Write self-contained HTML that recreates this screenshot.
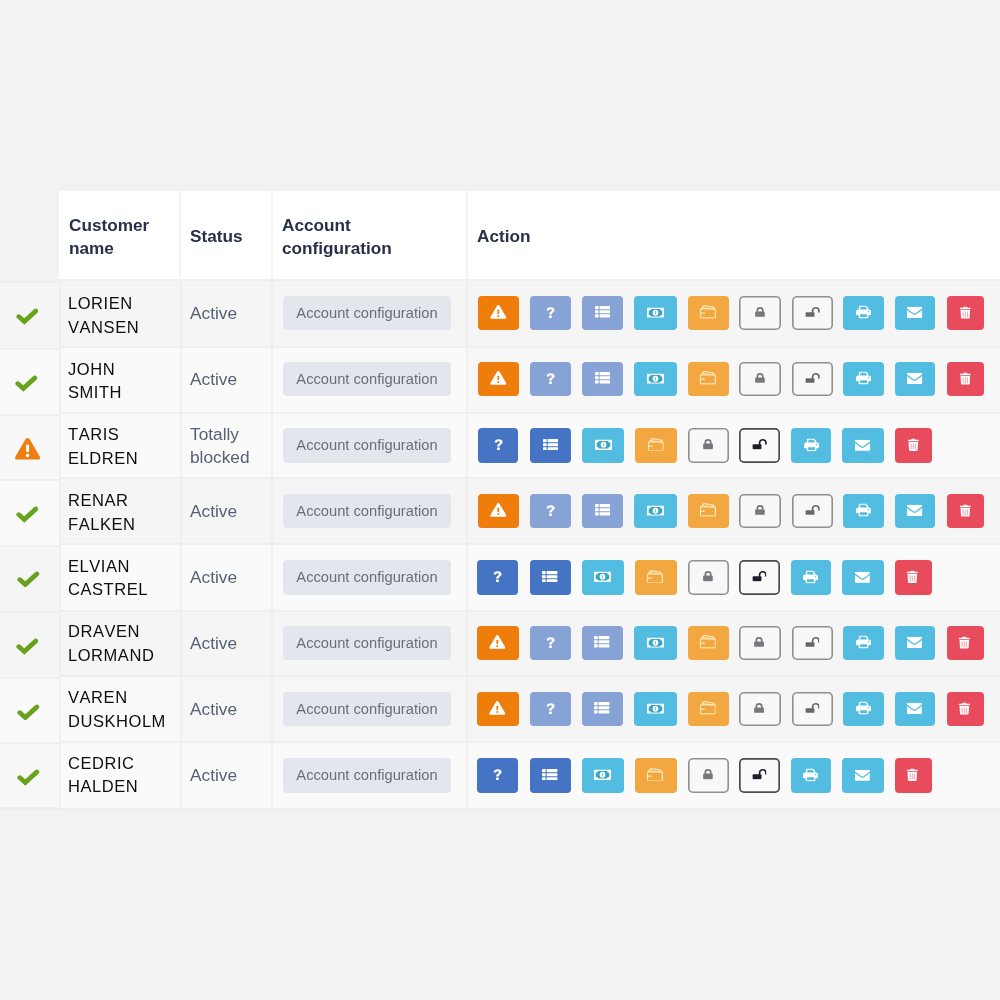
<!DOCTYPE html><html><head><meta charset="utf-8"><title>Customers</title><style>
*{box-sizing:border-box;margin:0;padding:0}
html,body{width:1000px;height:1000px;overflow:hidden}
html{background:#f2f2f2}
#wrap{position:absolute;left:0;top:0;width:1000px;height:1000px;filter:blur(0.45px)}
body{background:#f2f2f2;font-family:"Liberation Sans",sans-serif;position:relative}
.abs{position:absolute}
.hdr{position:absolute;left:59px;top:191px;width:941px;height:89px;background:#fff}
.hl{position:absolute;top:191px;width:1px;height:617px;background:#ebebeb}
.th{position:absolute;font-weight:bold;font-size:17.2px;line-height:23px;color:#273048}
.row{position:absolute;left:0;width:1000px}
.row .lc{position:absolute;left:0;top:0;width:59px;height:100%}
.sep{position:absolute;height:2px;background:#ececec;opacity:0.85}
.nm{position:absolute;left:68px;font-size:16.5px;line-height:23.7px;letter-spacing:0.55px;font-kerning:none;color:#0e0e0e}
.st{position:absolute;left:190px;font-size:17.3px;line-height:23px;color:#566175}
.ac{position:absolute;left:283px;width:168px;height:34px;border-radius:4px;background:#e3e6ec;color:#6b6e76;font-size:14.7px;line-height:35px;text-align:center}
.btn{position:absolute;height:34px;border-radius:4px;display:flex;align-items:center;justify-content:center}
.btn svg{display:block}
.b-warn{background:#ef7d0b}
.b-lq{background:#87a2d4}
.b-bl{background:#4674c4}
.b-cy{background:#52bde0}
.b-or{background:#f3a740}
.b-red{background:#e84c5c}
.b-out{background:#f8f8f8;box-shadow:inset 0 0 0 1.6px #8f8f8f;border-radius:5px}
.b-outd{background:#fafafa;box-shadow:inset 0 0 0 1.7px #4c4c50;border-radius:5px}
.ico{position:absolute}
</style></head><body><div id="wrap">
<div class="hdr"></div>
<div class="abs" style="left:0;top:282px;width:59px;height:67px;background:#f5f5f5"></div>
<div class="abs" style="left:59px;top:280px;width:121px;height:67px;background:#f5f5f5"></div>
<div class="abs" style="left:180px;top:280px;width:92px;height:67px;background:#f5f5f5"></div>
<div class="abs" style="left:272px;top:280px;width:194px;height:67px;background:#f5f5f5"></div>
<div class="abs" style="left:466px;top:280px;width:534px;height:67px;background:#f5f5f5"></div>
<div class="ico" style="left:15.6px;top:308.4px"><svg width="22.6" height="16.5" viewBox="0 0 24 18" preserveAspectRatio="none"><path d="M3 9.4 L8.8 14.8 L21 3.2" fill="none" stroke="#69a21c" stroke-width="5.1" stroke-linecap="round" stroke-linejoin="miter"/></svg></div>
<div class="nm" style="top:291.8px">LORIEN<br>VANSEN</div>
<div class="st" style="top:301.5px">Active</div>
<div class="ac" style="top:296px;height:34px">Account configuration</div>
<div class="btn b-warn" style="left:478.0px;top:296px;width:41px;height:34px"><svg width="17.3" height="15.1" viewBox="0 0 18 16" preserveAspectRatio="none" style="transform:translate(-0.35px,-0.65px)"><path d="M9 0.8 Q9.9 0.8 10.4 1.7 L17.2 13.4 Q17.9 15.2 16.1 15.3 L1.9 15.3 Q0.1 15.2 0.8 13.4 L7.6 1.7 Q8.1 0.8 9 0.8 Z" fill="#fff"/><rect x="8.1" y="5.6" width="1.8" height="4.6" rx="0.6" fill="#ef7d0b"/><circle cx="9" cy="12.4" r="1.1" fill="#ef7d0b"/></svg></div>
<div class="btn b-lq" style="left:530.0px;top:296px;width:41px;height:34px"><svg width="10.3" height="12.6" viewBox="0 0 10 14" preserveAspectRatio="none" style="transform:translate(0.4px,-0.5px)"><path d="M1.1 4.4 C1.3 1.9 3 0.9 5 0.9 C7.3 0.9 8.9 2.1 8.9 4 C8.9 5.5 8.1 6.2 7.1 6.9 C6.3 7.5 6.2 7.9 6.2 8.9 L3.6 8.9 C3.6 7.4 4 6.7 5 6 C5.8 5.4 6.2 5 6.2 4.2 C6.2 3.5 5.7 3.1 5 3.1 C4.2 3.1 3.7 3.6 3.6 4.5 Z" fill="#fff"/><rect x="3.5" y="10" width="2.8" height="2.8" rx="0.5" fill="#fff"/></svg></div>
<div class="btn b-lq" style="left:582.0px;top:296px;width:41px;height:34px"><svg width="15.4" height="11.5" viewBox="0 0 16 13" preserveAspectRatio="none" style="transform:translate(0px,-1px)"><g fill="#fff"><rect x="0" y="0" width="3.8" height="3.6" rx="0.5"/><rect x="4.8" y="0" width="11.2" height="3.6" rx="0.5"/><rect x="0" y="4.7" width="3.8" height="3.6" rx="0.5"/><rect x="4.8" y="4.7" width="11.2" height="3.6" rx="0.5"/><rect x="0" y="9.4" width="3.8" height="3.6" rx="0.5"/><rect x="4.8" y="9.4" width="11.2" height="3.6" rx="0.5"/></g></svg></div>
<div class="btn b-cy" style="left:634.0px;top:296px;width:43px;height:34px"><svg width="17" height="10.3" viewBox="0 0 18 12" preserveAspectRatio="none" style="transform:translate(0px,-0.4px)"><rect x="0" y="0" width="18" height="12" rx="1" fill="#fff"/><path d="M4.2 1.7 L13.8 1.7 Q14 3.4 16.2 3.6 L16.2 8.4 Q14 8.6 13.8 10.3 L4.2 10.3 Q4 8.6 1.8 8.4 L1.8 3.6 Q4 3.4 4.2 1.7 Z" fill="#35a7c6"/><ellipse cx="9" cy="6" rx="3" ry="3.5" fill="#fff"/><rect x="8.5" y="4" width="1" height="4" fill="#6cc6e2"/></svg></div>
<div class="btn b-or" style="left:688.0px;top:296px;width:41px;height:34px"><svg width="16.4" height="13.8" viewBox="0 0 17 14" preserveAspectRatio="none" style="transform:translate(-0.3px,-1.2px)"><g fill="none" stroke="#fde7b8" stroke-width="1.35" stroke-linejoin="round" stroke-linecap="round"><path d="M1.8 4.2 L3.5 1.5 Q3.9 0.7 4.8 0.8 L14.1 2.4 Q14.8 2.6 14.8 3.3 L14.8 4.2"/><path d="M3.6 2.9 L13.2 4.1" stroke-width="0.9"/><rect x="0.7" y="4.2" width="15.6" height="9.1" rx="1.2"/><path d="M0.7 8.4 L4.8 8.4"/></g></svg></div>
<div class="btn b-out" style="left:739.0px;top:296px;width:42px;height:34px"><svg width="10.5" height="10.7" viewBox="0 0 12 13" preserveAspectRatio="none" style="transform:translate(-0.2px,-1.2px)"><path d="M2.9 6.4 L2.9 4.4 A3.1 3.1 0 0 1 9.1 4.4 L9.1 6.4" fill="none" stroke="#77787b" stroke-width="1.9"/><rect x="0.4" y="5.8" width="11.2" height="7" rx="1.2" fill="#77787b"/></svg></div>
<div class="btn b-out" style="left:792.0px;top:296px;width:41px;height:34px"><svg width="14.8" height="10.8" viewBox="0 0 16 13" preserveAspectRatio="none" style="transform:translate(0.2px,-1.2px)"><path d="M8 7 L8 4.6 A3.4 3.4 0 0 1 14.8 4.6 L14.8 6.4" fill="none" stroke="#66676a" stroke-width="1.8" stroke-linecap="round"/><rect x="0.4" y="6.6" width="9.6" height="6" rx="1.1" fill="#66676a"/></svg></div>
<div class="btn b-cy" style="left:843.0px;top:296px;width:41px;height:34px"><svg width="15" height="13.2" viewBox="0 0 16 15" preserveAspectRatio="none" style="transform:translate(0px,-0.5px)"><path d="M3.8 5 L3.8 1.4 Q3.8 0.7 4.5 0.7 L10.2 0.7 L12.2 2.7 L12.2 5" fill="none" stroke="#fff" stroke-width="1.5" stroke-linejoin="round"/><path d="M2.4 4.6 L13.6 4.6 Q16 4.6 16 7 L16 10 Q16 11.2 14.8 11.2 L1.2 11.2 Q0 11.2 0 10 L0 7 Q0 4.6 2.4 4.6 Z" fill="#fff"/><rect x="3.6" y="9.2" width="8.8" height="4.6" rx="0.4" fill="#52bde0" stroke="#fff" stroke-width="1.5"/><circle cx="13.3" cy="7" r="0.8" fill="#52bde0"/></svg></div>
<div class="btn b-cy" style="left:895.0px;top:296px;width:40px;height:34px"><svg width="15.4" height="11.3" viewBox="0 0 17 13" preserveAspectRatio="none" style="transform:translate(-0.2px,-0.3px)"><path d="M1.4 0 L15.6 0 Q17 0 17 1.4 L17 1.9 L9.6 7.4 Q8.5 8.1 7.4 7.4 L0 1.9 L0 1.4 Q0 0 1.4 0 Z" fill="#fff"/><path d="M0 3.7 L6.6 8.6 Q8.5 9.8 10.4 8.6 L17 3.7 L17 11.6 Q17 13 15.6 13 L1.4 13 Q0 13 0 11.6 Z" fill="#fff"/></svg></div>
<div class="btn b-red" style="left:947.0px;top:296px;width:37px;height:34px"><svg width="11.2" height="12.7" viewBox="0 0 12 15" preserveAspectRatio="none" style="transform:translate(-0.3px,-0.6px)"><path d="M0.5 1.6 L3.6 1.6 L4.2 0.5 Q4.4 0.2 4.8 0.2 L7.2 0.2 Q7.6 0.2 7.8 0.5 L8.4 1.6 L11.5 1.6 Q12 1.6 12 2.1 L12 2.9 Q12 3.3 11.5 3.3 L0.5 3.3 Q0 3.3 0 2.9 L0 2.1 Q0 1.6 0.5 1.6 Z" fill="#fff"/><path d="M0.9 4.3 L11.1 4.3 L10.6 13.6 Q10.5 14.8 9.3 14.8 L2.7 14.8 Q1.5 14.8 1.4 13.6 Z" fill="#fff"/><g stroke="#e84c5c" stroke-width="1.1" stroke-linecap="round" opacity="0.5"><path d="M3.7 6.4 L3.7 12.6"/><path d="M6 6.4 L6 12.6"/><path d="M8.3 6.4 L8.3 12.6"/></g></svg></div>
<div class="abs" style="left:0;top:349px;width:59px;height:66px;background:#fafafa"></div>
<div class="abs" style="left:59px;top:347px;width:121px;height:66px;background:#fafafa"></div>
<div class="abs" style="left:180px;top:347px;width:92px;height:66px;background:#fafafa"></div>
<div class="abs" style="left:272px;top:347px;width:194px;height:66px;background:#fafafa"></div>
<div class="abs" style="left:466px;top:347px;width:534px;height:66px;background:#f7f7f7"></div>
<div class="ico" style="left:15.1px;top:375.1px"><svg width="22.6" height="16.5" viewBox="0 0 24 18" preserveAspectRatio="none"><path d="M3 9.4 L8.8 14.8 L21 3.2" fill="none" stroke="#69a21c" stroke-width="5.1" stroke-linecap="round" stroke-linejoin="miter"/></svg></div>
<div class="nm" style="top:357.5px">JOHN<br>SMITH</div>
<div class="st" style="top:367.5px">Active</div>
<div class="ac" style="top:362px;height:34px">Account configuration</div>
<div class="btn b-warn" style="left:478.0px;top:362px;width:41px;height:34px"><svg width="17.3" height="15.1" viewBox="0 0 18 16" preserveAspectRatio="none" style="transform:translate(-0.35px,-0.65px)"><path d="M9 0.8 Q9.9 0.8 10.4 1.7 L17.2 13.4 Q17.9 15.2 16.1 15.3 L1.9 15.3 Q0.1 15.2 0.8 13.4 L7.6 1.7 Q8.1 0.8 9 0.8 Z" fill="#fff"/><rect x="8.1" y="5.6" width="1.8" height="4.6" rx="0.6" fill="#ef7d0b"/><circle cx="9" cy="12.4" r="1.1" fill="#ef7d0b"/></svg></div>
<div class="btn b-lq" style="left:530.0px;top:362px;width:41px;height:34px"><svg width="10.3" height="12.6" viewBox="0 0 10 14" preserveAspectRatio="none" style="transform:translate(0.4px,-0.5px)"><path d="M1.1 4.4 C1.3 1.9 3 0.9 5 0.9 C7.3 0.9 8.9 2.1 8.9 4 C8.9 5.5 8.1 6.2 7.1 6.9 C6.3 7.5 6.2 7.9 6.2 8.9 L3.6 8.9 C3.6 7.4 4 6.7 5 6 C5.8 5.4 6.2 5 6.2 4.2 C6.2 3.5 5.7 3.1 5 3.1 C4.2 3.1 3.7 3.6 3.6 4.5 Z" fill="#fff"/><rect x="3.5" y="10" width="2.8" height="2.8" rx="0.5" fill="#fff"/></svg></div>
<div class="btn b-lq" style="left:582.0px;top:362px;width:41px;height:34px"><svg width="15.4" height="11.5" viewBox="0 0 16 13" preserveAspectRatio="none" style="transform:translate(0px,-1px)"><g fill="#fff"><rect x="0" y="0" width="3.8" height="3.6" rx="0.5"/><rect x="4.8" y="0" width="11.2" height="3.6" rx="0.5"/><rect x="0" y="4.7" width="3.8" height="3.6" rx="0.5"/><rect x="4.8" y="4.7" width="11.2" height="3.6" rx="0.5"/><rect x="0" y="9.4" width="3.8" height="3.6" rx="0.5"/><rect x="4.8" y="9.4" width="11.2" height="3.6" rx="0.5"/></g></svg></div>
<div class="btn b-cy" style="left:634.0px;top:362px;width:43px;height:34px"><svg width="17" height="10.3" viewBox="0 0 18 12" preserveAspectRatio="none" style="transform:translate(0px,-0.4px)"><rect x="0" y="0" width="18" height="12" rx="1" fill="#fff"/><path d="M4.2 1.7 L13.8 1.7 Q14 3.4 16.2 3.6 L16.2 8.4 Q14 8.6 13.8 10.3 L4.2 10.3 Q4 8.6 1.8 8.4 L1.8 3.6 Q4 3.4 4.2 1.7 Z" fill="#35a7c6"/><ellipse cx="9" cy="6" rx="3" ry="3.5" fill="#fff"/><rect x="8.5" y="4" width="1" height="4" fill="#6cc6e2"/></svg></div>
<div class="btn b-or" style="left:688.0px;top:362px;width:41px;height:34px"><svg width="16.4" height="13.8" viewBox="0 0 17 14" preserveAspectRatio="none" style="transform:translate(-0.3px,-1.2px)"><g fill="none" stroke="#fde7b8" stroke-width="1.35" stroke-linejoin="round" stroke-linecap="round"><path d="M1.8 4.2 L3.5 1.5 Q3.9 0.7 4.8 0.8 L14.1 2.4 Q14.8 2.6 14.8 3.3 L14.8 4.2"/><path d="M3.6 2.9 L13.2 4.1" stroke-width="0.9"/><rect x="0.7" y="4.2" width="15.6" height="9.1" rx="1.2"/><path d="M0.7 8.4 L4.8 8.4"/></g></svg></div>
<div class="btn b-out" style="left:739.0px;top:362px;width:42px;height:34px"><svg width="10.5" height="10.7" viewBox="0 0 12 13" preserveAspectRatio="none" style="transform:translate(-0.2px,-1.2px)"><path d="M2.9 6.4 L2.9 4.4 A3.1 3.1 0 0 1 9.1 4.4 L9.1 6.4" fill="none" stroke="#77787b" stroke-width="1.9"/><rect x="0.4" y="5.8" width="11.2" height="7" rx="1.2" fill="#77787b"/></svg></div>
<div class="btn b-out" style="left:792.0px;top:362px;width:41px;height:34px"><svg width="14.8" height="10.8" viewBox="0 0 16 13" preserveAspectRatio="none" style="transform:translate(0.2px,-1.2px)"><path d="M8 7 L8 4.6 A3.4 3.4 0 0 1 14.8 4.6 L14.8 6.4" fill="none" stroke="#66676a" stroke-width="1.8" stroke-linecap="round"/><rect x="0.4" y="6.6" width="9.6" height="6" rx="1.1" fill="#66676a"/></svg></div>
<div class="btn b-cy" style="left:843.0px;top:362px;width:41px;height:34px"><svg width="15" height="13.2" viewBox="0 0 16 15" preserveAspectRatio="none" style="transform:translate(0px,-0.5px)"><path d="M3.8 5 L3.8 1.4 Q3.8 0.7 4.5 0.7 L10.2 0.7 L12.2 2.7 L12.2 5" fill="none" stroke="#fff" stroke-width="1.5" stroke-linejoin="round"/><path d="M2.4 4.6 L13.6 4.6 Q16 4.6 16 7 L16 10 Q16 11.2 14.8 11.2 L1.2 11.2 Q0 11.2 0 10 L0 7 Q0 4.6 2.4 4.6 Z" fill="#fff"/><rect x="3.6" y="9.2" width="8.8" height="4.6" rx="0.4" fill="#52bde0" stroke="#fff" stroke-width="1.5"/><circle cx="13.3" cy="7" r="0.8" fill="#52bde0"/></svg></div>
<div class="btn b-cy" style="left:895.0px;top:362px;width:40px;height:34px"><svg width="15.4" height="11.3" viewBox="0 0 17 13" preserveAspectRatio="none" style="transform:translate(-0.2px,-0.3px)"><path d="M1.4 0 L15.6 0 Q17 0 17 1.4 L17 1.9 L9.6 7.4 Q8.5 8.1 7.4 7.4 L0 1.9 L0 1.4 Q0 0 1.4 0 Z" fill="#fff"/><path d="M0 3.7 L6.6 8.6 Q8.5 9.8 10.4 8.6 L17 3.7 L17 11.6 Q17 13 15.6 13 L1.4 13 Q0 13 0 11.6 Z" fill="#fff"/></svg></div>
<div class="btn b-red" style="left:947.0px;top:362px;width:37px;height:34px"><svg width="11.2" height="12.7" viewBox="0 0 12 15" preserveAspectRatio="none" style="transform:translate(-0.3px,-0.6px)"><path d="M0.5 1.6 L3.6 1.6 L4.2 0.5 Q4.4 0.2 4.8 0.2 L7.2 0.2 Q7.6 0.2 7.8 0.5 L8.4 1.6 L11.5 1.6 Q12 1.6 12 2.1 L12 2.9 Q12 3.3 11.5 3.3 L0.5 3.3 Q0 3.3 0 2.9 L0 2.1 Q0 1.6 0.5 1.6 Z" fill="#fff"/><path d="M0.9 4.3 L11.1 4.3 L10.6 13.6 Q10.5 14.8 9.3 14.8 L2.7 14.8 Q1.5 14.8 1.4 13.6 Z" fill="#fff"/><g stroke="#e84c5c" stroke-width="1.1" stroke-linecap="round" opacity="0.5"><path d="M3.7 6.4 L3.7 12.6"/><path d="M6 6.4 L6 12.6"/><path d="M8.3 6.4 L8.3 12.6"/></g></svg></div>
<div class="abs" style="left:0;top:415px;width:59px;height:65px;background:#f8f8f8"></div>
<div class="abs" style="left:59px;top:413px;width:121px;height:65px;background:#fafafa"></div>
<div class="abs" style="left:180px;top:413px;width:92px;height:65px;background:#fafafa"></div>
<div class="abs" style="left:272px;top:413px;width:194px;height:65px;background:#fafafa"></div>
<div class="abs" style="left:466px;top:413px;width:534px;height:65px;background:#fafafa"></div>
<div class="ico" style="left:13.8px;top:436.7px"><svg width="27.2" height="23.4" viewBox="0 0 28 24" preserveAspectRatio="none"><path d="M14 1 Q15.4 1 16.2 2.4 L26.6 20.2 Q27.6 23 25 23.2 L3 23.2 Q0.4 23 1.4 20.2 L11.8 2.4 Q12.6 1 14 1 Z" fill="#ef7d10"/><rect x="12.5" y="7.6" width="3" height="8" rx="0.9" fill="#fff"/><circle cx="14" cy="19" r="1.8" fill="#fff"/></svg></div>
<div class="nm" style="top:423.2px">TARIS<br>ELDREN</div>
<div class="st" style="top:422.5px">Totally<br>blocked</div>
<div class="ac" style="top:428px;height:35px">Account configuration</div>
<div class="btn b-bl" style="left:478.0px;top:428px;width:40px;height:35px"><svg width="10.3" height="12.6" viewBox="0 0 10 14" preserveAspectRatio="none" style="transform:translate(0.4px,-0.5px)"><path d="M1.1 4.4 C1.3 1.9 3 0.9 5 0.9 C7.3 0.9 8.9 2.1 8.9 4 C8.9 5.5 8.1 6.2 7.1 6.9 C6.3 7.5 6.2 7.9 6.2 8.9 L3.6 8.9 C3.6 7.4 4 6.7 5 6 C5.8 5.4 6.2 5 6.2 4.2 C6.2 3.5 5.7 3.1 5 3.1 C4.2 3.1 3.7 3.6 3.6 4.5 Z" fill="#fff"/><rect x="3.5" y="10" width="2.8" height="2.8" rx="0.5" fill="#fff"/></svg></div>
<div class="btn b-bl" style="left:530.0px;top:428px;width:41px;height:35px"><svg width="15.4" height="11.5" viewBox="0 0 16 13" preserveAspectRatio="none" style="transform:translate(0px,-1px)"><g fill="#fff"><rect x="0" y="0" width="3.8" height="3.6" rx="0.5"/><rect x="4.8" y="0" width="11.2" height="3.6" rx="0.5"/><rect x="0" y="4.7" width="3.8" height="3.6" rx="0.5"/><rect x="4.8" y="4.7" width="11.2" height="3.6" rx="0.5"/><rect x="0" y="9.4" width="3.8" height="3.6" rx="0.5"/><rect x="4.8" y="9.4" width="11.2" height="3.6" rx="0.5"/></g></svg></div>
<div class="btn b-cy" style="left:582.0px;top:428px;width:42px;height:35px"><svg width="17" height="10.3" viewBox="0 0 18 12" preserveAspectRatio="none" style="transform:translate(0px,-0.4px)"><rect x="0" y="0" width="18" height="12" rx="1" fill="#fff"/><path d="M4.2 1.7 L13.8 1.7 Q14 3.4 16.2 3.6 L16.2 8.4 Q14 8.6 13.8 10.3 L4.2 10.3 Q4 8.6 1.8 8.4 L1.8 3.6 Q4 3.4 4.2 1.7 Z" fill="#35a7c6"/><ellipse cx="9" cy="6" rx="3" ry="3.5" fill="#fff"/><rect x="8.5" y="4" width="1" height="4" fill="#6cc6e2"/></svg></div>
<div class="btn b-or" style="left:635.0px;top:428px;width:42px;height:35px"><svg width="16.4" height="13.8" viewBox="0 0 17 14" preserveAspectRatio="none" style="transform:translate(-0.3px,-1.2px)"><g fill="none" stroke="#fde7b8" stroke-width="1.35" stroke-linejoin="round" stroke-linecap="round"><path d="M1.8 4.2 L3.5 1.5 Q3.9 0.7 4.8 0.8 L14.1 2.4 Q14.8 2.6 14.8 3.3 L14.8 4.2"/><path d="M3.6 2.9 L13.2 4.1" stroke-width="0.9"/><rect x="0.7" y="4.2" width="15.6" height="9.1" rx="1.2"/><path d="M0.7 8.4 L4.8 8.4"/></g></svg></div>
<div class="btn b-out" style="left:688.0px;top:428px;width:41px;height:35px"><svg width="10.5" height="10.7" viewBox="0 0 12 13" preserveAspectRatio="none" style="transform:translate(-0.2px,-1.2px)"><path d="M2.9 6.4 L2.9 4.4 A3.1 3.1 0 0 1 9.1 4.4 L9.1 6.4" fill="none" stroke="#77787b" stroke-width="1.9"/><rect x="0.4" y="5.8" width="11.2" height="7" rx="1.2" fill="#77787b"/></svg></div>
<div class="btn b-outd" style="left:739.0px;top:428px;width:41px;height:35px"><svg width="14.8" height="10.8" viewBox="0 0 16 13" preserveAspectRatio="none" style="transform:translate(0.2px,-1.2px)"><path d="M8 7 L8 4.6 A3.4 3.4 0 0 1 14.8 4.6 L14.8 6.4" fill="none" stroke="#1c1f2a" stroke-width="1.8" stroke-linecap="round"/><rect x="0.4" y="6.6" width="9.6" height="6" rx="1.1" fill="#1c1f2a"/></svg></div>
<div class="btn b-cy" style="left:791.0px;top:428px;width:40px;height:35px"><svg width="15" height="13.2" viewBox="0 0 16 15" preserveAspectRatio="none" style="transform:translate(0px,-0.5px)"><path d="M3.8 5 L3.8 1.4 Q3.8 0.7 4.5 0.7 L10.2 0.7 L12.2 2.7 L12.2 5" fill="none" stroke="#fff" stroke-width="1.5" stroke-linejoin="round"/><path d="M2.4 4.6 L13.6 4.6 Q16 4.6 16 7 L16 10 Q16 11.2 14.8 11.2 L1.2 11.2 Q0 11.2 0 10 L0 7 Q0 4.6 2.4 4.6 Z" fill="#fff"/><rect x="3.6" y="9.2" width="8.8" height="4.6" rx="0.4" fill="#52bde0" stroke="#fff" stroke-width="1.5"/><circle cx="13.3" cy="7" r="0.8" fill="#52bde0"/></svg></div>
<div class="btn b-cy" style="left:842.0px;top:428px;width:42px;height:35px"><svg width="15.4" height="11.3" viewBox="0 0 17 13" preserveAspectRatio="none" style="transform:translate(-0.2px,-0.3px)"><path d="M1.4 0 L15.6 0 Q17 0 17 1.4 L17 1.9 L9.6 7.4 Q8.5 8.1 7.4 7.4 L0 1.9 L0 1.4 Q0 0 1.4 0 Z" fill="#fff"/><path d="M0 3.7 L6.6 8.6 Q8.5 9.8 10.4 8.6 L17 3.7 L17 11.6 Q17 13 15.6 13 L1.4 13 Q0 13 0 11.6 Z" fill="#fff"/></svg></div>
<div class="btn b-red" style="left:895.0px;top:428px;width:37px;height:35px"><svg width="11.2" height="12.7" viewBox="0 0 12 15" preserveAspectRatio="none" style="transform:translate(-0.3px,-0.6px)"><path d="M0.5 1.6 L3.6 1.6 L4.2 0.5 Q4.4 0.2 4.8 0.2 L7.2 0.2 Q7.6 0.2 7.8 0.5 L8.4 1.6 L11.5 1.6 Q12 1.6 12 2.1 L12 2.9 Q12 3.3 11.5 3.3 L0.5 3.3 Q0 3.3 0 2.9 L0 2.1 Q0 1.6 0.5 1.6 Z" fill="#fff"/><path d="M0.9 4.3 L11.1 4.3 L10.6 13.6 Q10.5 14.8 9.3 14.8 L2.7 14.8 Q1.5 14.8 1.4 13.6 Z" fill="#fff"/><g stroke="#e84c5c" stroke-width="1.1" stroke-linecap="round" opacity="0.5"><path d="M3.7 6.4 L3.7 12.6"/><path d="M6 6.4 L6 12.6"/><path d="M8.3 6.4 L8.3 12.6"/></g></svg></div>
<div class="abs" style="left:0;top:480px;width:59px;height:66px;background:#fafafa"></div>
<div class="abs" style="left:59px;top:478px;width:121px;height:66px;background:#f5f5f5"></div>
<div class="abs" style="left:180px;top:478px;width:92px;height:66px;background:#f5f5f5"></div>
<div class="abs" style="left:272px;top:478px;width:194px;height:66px;background:#f5f5f5"></div>
<div class="abs" style="left:466px;top:478px;width:534px;height:66px;background:#f5f5f5"></div>
<div class="ico" style="left:15.6px;top:506.3px"><svg width="22.6" height="16.5" viewBox="0 0 24 18" preserveAspectRatio="none"><path d="M3 9.4 L8.8 14.8 L21 3.2" fill="none" stroke="#69a21c" stroke-width="5.1" stroke-linecap="round" stroke-linejoin="miter"/></svg></div>
<div class="nm" style="top:488.9px">RENAR<br>FALKEN</div>
<div class="st" style="top:499.5px">Active</div>
<div class="ac" style="top:494px;height:34px">Account configuration</div>
<div class="btn b-warn" style="left:478.0px;top:494px;width:41px;height:34px"><svg width="17.3" height="15.1" viewBox="0 0 18 16" preserveAspectRatio="none" style="transform:translate(-0.35px,-0.65px)"><path d="M9 0.8 Q9.9 0.8 10.4 1.7 L17.2 13.4 Q17.9 15.2 16.1 15.3 L1.9 15.3 Q0.1 15.2 0.8 13.4 L7.6 1.7 Q8.1 0.8 9 0.8 Z" fill="#fff"/><rect x="8.1" y="5.6" width="1.8" height="4.6" rx="0.6" fill="#ef7d0b"/><circle cx="9" cy="12.4" r="1.1" fill="#ef7d0b"/></svg></div>
<div class="btn b-lq" style="left:530.0px;top:494px;width:41px;height:34px"><svg width="10.3" height="12.6" viewBox="0 0 10 14" preserveAspectRatio="none" style="transform:translate(0.4px,-0.5px)"><path d="M1.1 4.4 C1.3 1.9 3 0.9 5 0.9 C7.3 0.9 8.9 2.1 8.9 4 C8.9 5.5 8.1 6.2 7.1 6.9 C6.3 7.5 6.2 7.9 6.2 8.9 L3.6 8.9 C3.6 7.4 4 6.7 5 6 C5.8 5.4 6.2 5 6.2 4.2 C6.2 3.5 5.7 3.1 5 3.1 C4.2 3.1 3.7 3.6 3.6 4.5 Z" fill="#fff"/><rect x="3.5" y="10" width="2.8" height="2.8" rx="0.5" fill="#fff"/></svg></div>
<div class="btn b-lq" style="left:582.0px;top:494px;width:41px;height:34px"><svg width="15.4" height="11.5" viewBox="0 0 16 13" preserveAspectRatio="none" style="transform:translate(0px,-1px)"><g fill="#fff"><rect x="0" y="0" width="3.8" height="3.6" rx="0.5"/><rect x="4.8" y="0" width="11.2" height="3.6" rx="0.5"/><rect x="0" y="4.7" width="3.8" height="3.6" rx="0.5"/><rect x="4.8" y="4.7" width="11.2" height="3.6" rx="0.5"/><rect x="0" y="9.4" width="3.8" height="3.6" rx="0.5"/><rect x="4.8" y="9.4" width="11.2" height="3.6" rx="0.5"/></g></svg></div>
<div class="btn b-cy" style="left:634.0px;top:494px;width:43px;height:34px"><svg width="17" height="10.3" viewBox="0 0 18 12" preserveAspectRatio="none" style="transform:translate(0px,-0.4px)"><rect x="0" y="0" width="18" height="12" rx="1" fill="#fff"/><path d="M4.2 1.7 L13.8 1.7 Q14 3.4 16.2 3.6 L16.2 8.4 Q14 8.6 13.8 10.3 L4.2 10.3 Q4 8.6 1.8 8.4 L1.8 3.6 Q4 3.4 4.2 1.7 Z" fill="#35a7c6"/><ellipse cx="9" cy="6" rx="3" ry="3.5" fill="#fff"/><rect x="8.5" y="4" width="1" height="4" fill="#6cc6e2"/></svg></div>
<div class="btn b-or" style="left:688.0px;top:494px;width:41px;height:34px"><svg width="16.4" height="13.8" viewBox="0 0 17 14" preserveAspectRatio="none" style="transform:translate(-0.3px,-1.2px)"><g fill="none" stroke="#fde7b8" stroke-width="1.35" stroke-linejoin="round" stroke-linecap="round"><path d="M1.8 4.2 L3.5 1.5 Q3.9 0.7 4.8 0.8 L14.1 2.4 Q14.8 2.6 14.8 3.3 L14.8 4.2"/><path d="M3.6 2.9 L13.2 4.1" stroke-width="0.9"/><rect x="0.7" y="4.2" width="15.6" height="9.1" rx="1.2"/><path d="M0.7 8.4 L4.8 8.4"/></g></svg></div>
<div class="btn b-out" style="left:739.0px;top:494px;width:42px;height:34px"><svg width="10.5" height="10.7" viewBox="0 0 12 13" preserveAspectRatio="none" style="transform:translate(-0.2px,-1.2px)"><path d="M2.9 6.4 L2.9 4.4 A3.1 3.1 0 0 1 9.1 4.4 L9.1 6.4" fill="none" stroke="#77787b" stroke-width="1.9"/><rect x="0.4" y="5.8" width="11.2" height="7" rx="1.2" fill="#77787b"/></svg></div>
<div class="btn b-out" style="left:792.0px;top:494px;width:41px;height:34px"><svg width="14.8" height="10.8" viewBox="0 0 16 13" preserveAspectRatio="none" style="transform:translate(0.2px,-1.2px)"><path d="M8 7 L8 4.6 A3.4 3.4 0 0 1 14.8 4.6 L14.8 6.4" fill="none" stroke="#66676a" stroke-width="1.8" stroke-linecap="round"/><rect x="0.4" y="6.6" width="9.6" height="6" rx="1.1" fill="#66676a"/></svg></div>
<div class="btn b-cy" style="left:843.0px;top:494px;width:41px;height:34px"><svg width="15" height="13.2" viewBox="0 0 16 15" preserveAspectRatio="none" style="transform:translate(0px,-0.5px)"><path d="M3.8 5 L3.8 1.4 Q3.8 0.7 4.5 0.7 L10.2 0.7 L12.2 2.7 L12.2 5" fill="none" stroke="#fff" stroke-width="1.5" stroke-linejoin="round"/><path d="M2.4 4.6 L13.6 4.6 Q16 4.6 16 7 L16 10 Q16 11.2 14.8 11.2 L1.2 11.2 Q0 11.2 0 10 L0 7 Q0 4.6 2.4 4.6 Z" fill="#fff"/><rect x="3.6" y="9.2" width="8.8" height="4.6" rx="0.4" fill="#52bde0" stroke="#fff" stroke-width="1.5"/><circle cx="13.3" cy="7" r="0.8" fill="#52bde0"/></svg></div>
<div class="btn b-cy" style="left:895.0px;top:494px;width:40px;height:34px"><svg width="15.4" height="11.3" viewBox="0 0 17 13" preserveAspectRatio="none" style="transform:translate(-0.2px,-0.3px)"><path d="M1.4 0 L15.6 0 Q17 0 17 1.4 L17 1.9 L9.6 7.4 Q8.5 8.1 7.4 7.4 L0 1.9 L0 1.4 Q0 0 1.4 0 Z" fill="#fff"/><path d="M0 3.7 L6.6 8.6 Q8.5 9.8 10.4 8.6 L17 3.7 L17 11.6 Q17 13 15.6 13 L1.4 13 Q0 13 0 11.6 Z" fill="#fff"/></svg></div>
<div class="btn b-red" style="left:947.0px;top:494px;width:37px;height:34px"><svg width="11.2" height="12.7" viewBox="0 0 12 15" preserveAspectRatio="none" style="transform:translate(-0.3px,-0.6px)"><path d="M0.5 1.6 L3.6 1.6 L4.2 0.5 Q4.4 0.2 4.8 0.2 L7.2 0.2 Q7.6 0.2 7.8 0.5 L8.4 1.6 L11.5 1.6 Q12 1.6 12 2.1 L12 2.9 Q12 3.3 11.5 3.3 L0.5 3.3 Q0 3.3 0 2.9 L0 2.1 Q0 1.6 0.5 1.6 Z" fill="#fff"/><path d="M0.9 4.3 L11.1 4.3 L10.6 13.6 Q10.5 14.8 9.3 14.8 L2.7 14.8 Q1.5 14.8 1.4 13.6 Z" fill="#fff"/><g stroke="#e84c5c" stroke-width="1.1" stroke-linecap="round" opacity="0.5"><path d="M3.7 6.4 L3.7 12.6"/><path d="M6 6.4 L6 12.6"/><path d="M8.3 6.4 L8.3 12.6"/></g></svg></div>
<div class="abs" style="left:0;top:546px;width:59px;height:66px;background:#f5f5f5"></div>
<div class="abs" style="left:59px;top:544px;width:121px;height:67px;background:#fafafa"></div>
<div class="abs" style="left:180px;top:544px;width:92px;height:67px;background:#fafafa"></div>
<div class="abs" style="left:272px;top:544px;width:194px;height:67px;background:#fafafa"></div>
<div class="abs" style="left:466px;top:544px;width:534px;height:67px;background:#fafafa"></div>
<div class="ico" style="left:17.0px;top:570.8px"><svg width="22.6" height="16.5" viewBox="0 0 24 18" preserveAspectRatio="none"><path d="M3 9.4 L8.8 14.8 L21 3.2" fill="none" stroke="#69a21c" stroke-width="5.1" stroke-linecap="round" stroke-linejoin="miter"/></svg></div>
<div class="nm" style="top:554.6px">ELVIAN<br>CASTREL</div>
<div class="st" style="top:566.0px">Active</div>
<div class="ac" style="top:560px;height:35px">Account configuration</div>
<div class="btn b-bl" style="left:476.5px;top:560px;width:41px;height:35px"><svg width="10.3" height="12.6" viewBox="0 0 10 14" preserveAspectRatio="none" style="transform:translate(0.4px,-0.5px)"><path d="M1.1 4.4 C1.3 1.9 3 0.9 5 0.9 C7.3 0.9 8.9 2.1 8.9 4 C8.9 5.5 8.1 6.2 7.1 6.9 C6.3 7.5 6.2 7.9 6.2 8.9 L3.6 8.9 C3.6 7.4 4 6.7 5 6 C5.8 5.4 6.2 5 6.2 4.2 C6.2 3.5 5.7 3.1 5 3.1 C4.2 3.1 3.7 3.6 3.6 4.5 Z" fill="#fff"/><rect x="3.5" y="10" width="2.8" height="2.8" rx="0.5" fill="#fff"/></svg></div>
<div class="btn b-bl" style="left:529.5px;top:560px;width:41px;height:35px"><svg width="15.4" height="11.5" viewBox="0 0 16 13" preserveAspectRatio="none" style="transform:translate(0px,-1px)"><g fill="#fff"><rect x="0" y="0" width="3.8" height="3.6" rx="0.5"/><rect x="4.8" y="0" width="11.2" height="3.6" rx="0.5"/><rect x="0" y="4.7" width="3.8" height="3.6" rx="0.5"/><rect x="4.8" y="4.7" width="11.2" height="3.6" rx="0.5"/><rect x="0" y="9.4" width="3.8" height="3.6" rx="0.5"/><rect x="4.8" y="9.4" width="11.2" height="3.6" rx="0.5"/></g></svg></div>
<div class="btn b-cy" style="left:581.5px;top:560px;width:42px;height:35px"><svg width="17" height="10.3" viewBox="0 0 18 12" preserveAspectRatio="none" style="transform:translate(0px,-0.4px)"><rect x="0" y="0" width="18" height="12" rx="1" fill="#fff"/><path d="M4.2 1.7 L13.8 1.7 Q14 3.4 16.2 3.6 L16.2 8.4 Q14 8.6 13.8 10.3 L4.2 10.3 Q4 8.6 1.8 8.4 L1.8 3.6 Q4 3.4 4.2 1.7 Z" fill="#35a7c6"/><ellipse cx="9" cy="6" rx="3" ry="3.5" fill="#fff"/><rect x="8.5" y="4" width="1" height="4" fill="#6cc6e2"/></svg></div>
<div class="btn b-or" style="left:634.5px;top:560px;width:42px;height:35px"><svg width="16.4" height="13.8" viewBox="0 0 17 14" preserveAspectRatio="none" style="transform:translate(-0.3px,-1.2px)"><g fill="none" stroke="#fde7b8" stroke-width="1.35" stroke-linejoin="round" stroke-linecap="round"><path d="M1.8 4.2 L3.5 1.5 Q3.9 0.7 4.8 0.8 L14.1 2.4 Q14.8 2.6 14.8 3.3 L14.8 4.2"/><path d="M3.6 2.9 L13.2 4.1" stroke-width="0.9"/><rect x="0.7" y="4.2" width="15.6" height="9.1" rx="1.2"/><path d="M0.7 8.4 L4.8 8.4"/></g></svg></div>
<div class="btn b-out" style="left:687.5px;top:560px;width:41px;height:35px"><svg width="10.5" height="10.7" viewBox="0 0 12 13" preserveAspectRatio="none" style="transform:translate(-0.2px,-1.2px)"><path d="M2.9 6.4 L2.9 4.4 A3.1 3.1 0 0 1 9.1 4.4 L9.1 6.4" fill="none" stroke="#77787b" stroke-width="1.9"/><rect x="0.4" y="5.8" width="11.2" height="7" rx="1.2" fill="#77787b"/></svg></div>
<div class="btn b-outd" style="left:738.5px;top:560px;width:41px;height:35px"><svg width="14.8" height="10.8" viewBox="0 0 16 13" preserveAspectRatio="none" style="transform:translate(0.2px,-1.2px)"><path d="M8 7 L8 4.6 A3.4 3.4 0 0 1 14.8 4.6 L14.8 6.4" fill="none" stroke="#1c1f2a" stroke-width="1.8" stroke-linecap="round"/><rect x="0.4" y="6.6" width="9.6" height="6" rx="1.1" fill="#1c1f2a"/></svg></div>
<div class="btn b-cy" style="left:790.5px;top:560px;width:40px;height:35px"><svg width="15" height="13.2" viewBox="0 0 16 15" preserveAspectRatio="none" style="transform:translate(0px,-0.5px)"><path d="M3.8 5 L3.8 1.4 Q3.8 0.7 4.5 0.7 L10.2 0.7 L12.2 2.7 L12.2 5" fill="none" stroke="#fff" stroke-width="1.5" stroke-linejoin="round"/><path d="M2.4 4.6 L13.6 4.6 Q16 4.6 16 7 L16 10 Q16 11.2 14.8 11.2 L1.2 11.2 Q0 11.2 0 10 L0 7 Q0 4.6 2.4 4.6 Z" fill="#fff"/><rect x="3.6" y="9.2" width="8.8" height="4.6" rx="0.4" fill="#52bde0" stroke="#fff" stroke-width="1.5"/><circle cx="13.3" cy="7" r="0.8" fill="#52bde0"/></svg></div>
<div class="btn b-cy" style="left:841.5px;top:560px;width:42px;height:35px"><svg width="15.4" height="11.3" viewBox="0 0 17 13" preserveAspectRatio="none" style="transform:translate(-0.2px,-0.3px)"><path d="M1.4 0 L15.6 0 Q17 0 17 1.4 L17 1.9 L9.6 7.4 Q8.5 8.1 7.4 7.4 L0 1.9 L0 1.4 Q0 0 1.4 0 Z" fill="#fff"/><path d="M0 3.7 L6.6 8.6 Q8.5 9.8 10.4 8.6 L17 3.7 L17 11.6 Q17 13 15.6 13 L1.4 13 Q0 13 0 11.6 Z" fill="#fff"/></svg></div>
<div class="btn b-red" style="left:894.5px;top:560px;width:37px;height:35px"><svg width="11.2" height="12.7" viewBox="0 0 12 15" preserveAspectRatio="none" style="transform:translate(-0.3px,-0.6px)"><path d="M0.5 1.6 L3.6 1.6 L4.2 0.5 Q4.4 0.2 4.8 0.2 L7.2 0.2 Q7.6 0.2 7.8 0.5 L8.4 1.6 L11.5 1.6 Q12 1.6 12 2.1 L12 2.9 Q12 3.3 11.5 3.3 L0.5 3.3 Q0 3.3 0 2.9 L0 2.1 Q0 1.6 0.5 1.6 Z" fill="#fff"/><path d="M0.9 4.3 L11.1 4.3 L10.6 13.6 Q10.5 14.8 9.3 14.8 L2.7 14.8 Q1.5 14.8 1.4 13.6 Z" fill="#fff"/><g stroke="#e84c5c" stroke-width="1.1" stroke-linecap="round" opacity="0.5"><path d="M3.7 6.4 L3.7 12.6"/><path d="M6 6.4 L6 12.6"/><path d="M8.3 6.4 L8.3 12.6"/></g></svg></div>
<div class="abs" style="left:0;top:612px;width:59px;height:66px;background:#f5f5f5"></div>
<div class="abs" style="left:59px;top:611px;width:121px;height:65px;background:#f5f5f5"></div>
<div class="abs" style="left:180px;top:611px;width:92px;height:65px;background:#f5f5f5"></div>
<div class="abs" style="left:272px;top:611px;width:194px;height:65px;background:#f5f5f5"></div>
<div class="abs" style="left:466px;top:611px;width:534px;height:65px;background:#f5f5f5"></div>
<div class="ico" style="left:15.6px;top:638.0px"><svg width="22.6" height="16.5" viewBox="0 0 24 18" preserveAspectRatio="none"><path d="M3 9.4 L8.8 14.8 L21 3.2" fill="none" stroke="#69a21c" stroke-width="5.1" stroke-linecap="round" stroke-linejoin="miter"/></svg></div>
<div class="nm" style="top:620.3px">DRAVEN<br>LORMAND</div>
<div class="st" style="top:631.5px">Active</div>
<div class="ac" style="top:626px;height:34px">Account configuration</div>
<div class="btn b-warn" style="left:476.5px;top:626px;width:42px;height:34px"><svg width="17.3" height="15.1" viewBox="0 0 18 16" preserveAspectRatio="none" style="transform:translate(-0.35px,-0.65px)"><path d="M9 0.8 Q9.9 0.8 10.4 1.7 L17.2 13.4 Q17.9 15.2 16.1 15.3 L1.9 15.3 Q0.1 15.2 0.8 13.4 L7.6 1.7 Q8.1 0.8 9 0.8 Z" fill="#fff"/><rect x="8.1" y="5.6" width="1.8" height="4.6" rx="0.6" fill="#ef7d0b"/><circle cx="9" cy="12.4" r="1.1" fill="#ef7d0b"/></svg></div>
<div class="btn b-lq" style="left:529.5px;top:626px;width:41px;height:34px"><svg width="10.3" height="12.6" viewBox="0 0 10 14" preserveAspectRatio="none" style="transform:translate(0.4px,-0.5px)"><path d="M1.1 4.4 C1.3 1.9 3 0.9 5 0.9 C7.3 0.9 8.9 2.1 8.9 4 C8.9 5.5 8.1 6.2 7.1 6.9 C6.3 7.5 6.2 7.9 6.2 8.9 L3.6 8.9 C3.6 7.4 4 6.7 5 6 C5.8 5.4 6.2 5 6.2 4.2 C6.2 3.5 5.7 3.1 5 3.1 C4.2 3.1 3.7 3.6 3.6 4.5 Z" fill="#fff"/><rect x="3.5" y="10" width="2.8" height="2.8" rx="0.5" fill="#fff"/></svg></div>
<div class="btn b-lq" style="left:581.5px;top:626px;width:41px;height:34px"><svg width="15.4" height="11.5" viewBox="0 0 16 13" preserveAspectRatio="none" style="transform:translate(0px,-1px)"><g fill="#fff"><rect x="0" y="0" width="3.8" height="3.6" rx="0.5"/><rect x="4.8" y="0" width="11.2" height="3.6" rx="0.5"/><rect x="0" y="4.7" width="3.8" height="3.6" rx="0.5"/><rect x="4.8" y="4.7" width="11.2" height="3.6" rx="0.5"/><rect x="0" y="9.4" width="3.8" height="3.6" rx="0.5"/><rect x="4.8" y="9.4" width="11.2" height="3.6" rx="0.5"/></g></svg></div>
<div class="btn b-cy" style="left:633.5px;top:626px;width:43px;height:34px"><svg width="17" height="10.3" viewBox="0 0 18 12" preserveAspectRatio="none" style="transform:translate(0px,-0.4px)"><rect x="0" y="0" width="18" height="12" rx="1" fill="#fff"/><path d="M4.2 1.7 L13.8 1.7 Q14 3.4 16.2 3.6 L16.2 8.4 Q14 8.6 13.8 10.3 L4.2 10.3 Q4 8.6 1.8 8.4 L1.8 3.6 Q4 3.4 4.2 1.7 Z" fill="#35a7c6"/><ellipse cx="9" cy="6" rx="3" ry="3.5" fill="#fff"/><rect x="8.5" y="4" width="1" height="4" fill="#6cc6e2"/></svg></div>
<div class="btn b-or" style="left:687.5px;top:626px;width:41px;height:34px"><svg width="16.4" height="13.8" viewBox="0 0 17 14" preserveAspectRatio="none" style="transform:translate(-0.3px,-1.2px)"><g fill="none" stroke="#fde7b8" stroke-width="1.35" stroke-linejoin="round" stroke-linecap="round"><path d="M1.8 4.2 L3.5 1.5 Q3.9 0.7 4.8 0.8 L14.1 2.4 Q14.8 2.6 14.8 3.3 L14.8 4.2"/><path d="M3.6 2.9 L13.2 4.1" stroke-width="0.9"/><rect x="0.7" y="4.2" width="15.6" height="9.1" rx="1.2"/><path d="M0.7 8.4 L4.8 8.4"/></g></svg></div>
<div class="btn b-out" style="left:738.5px;top:626px;width:42px;height:34px"><svg width="10.5" height="10.7" viewBox="0 0 12 13" preserveAspectRatio="none" style="transform:translate(-0.2px,-1.2px)"><path d="M2.9 6.4 L2.9 4.4 A3.1 3.1 0 0 1 9.1 4.4 L9.1 6.4" fill="none" stroke="#77787b" stroke-width="1.9"/><rect x="0.4" y="5.8" width="11.2" height="7" rx="1.2" fill="#77787b"/></svg></div>
<div class="btn b-out" style="left:791.5px;top:626px;width:41px;height:34px"><svg width="14.8" height="10.8" viewBox="0 0 16 13" preserveAspectRatio="none" style="transform:translate(0.2px,-1.2px)"><path d="M8 7 L8 4.6 A3.4 3.4 0 0 1 14.8 4.6 L14.8 6.4" fill="none" stroke="#66676a" stroke-width="1.8" stroke-linecap="round"/><rect x="0.4" y="6.6" width="9.6" height="6" rx="1.1" fill="#66676a"/></svg></div>
<div class="btn b-cy" style="left:842.5px;top:626px;width:41px;height:34px"><svg width="15" height="13.2" viewBox="0 0 16 15" preserveAspectRatio="none" style="transform:translate(0px,-0.5px)"><path d="M3.8 5 L3.8 1.4 Q3.8 0.7 4.5 0.7 L10.2 0.7 L12.2 2.7 L12.2 5" fill="none" stroke="#fff" stroke-width="1.5" stroke-linejoin="round"/><path d="M2.4 4.6 L13.6 4.6 Q16 4.6 16 7 L16 10 Q16 11.2 14.8 11.2 L1.2 11.2 Q0 11.2 0 10 L0 7 Q0 4.6 2.4 4.6 Z" fill="#fff"/><rect x="3.6" y="9.2" width="8.8" height="4.6" rx="0.4" fill="#52bde0" stroke="#fff" stroke-width="1.5"/><circle cx="13.3" cy="7" r="0.8" fill="#52bde0"/></svg></div>
<div class="btn b-cy" style="left:894.5px;top:626px;width:40px;height:34px"><svg width="15.4" height="11.3" viewBox="0 0 17 13" preserveAspectRatio="none" style="transform:translate(-0.2px,-0.3px)"><path d="M1.4 0 L15.6 0 Q17 0 17 1.4 L17 1.9 L9.6 7.4 Q8.5 8.1 7.4 7.4 L0 1.9 L0 1.4 Q0 0 1.4 0 Z" fill="#fff"/><path d="M0 3.7 L6.6 8.6 Q8.5 9.8 10.4 8.6 L17 3.7 L17 11.6 Q17 13 15.6 13 L1.4 13 Q0 13 0 11.6 Z" fill="#fff"/></svg></div>
<div class="btn b-red" style="left:946.5px;top:626px;width:37px;height:34px"><svg width="11.2" height="12.7" viewBox="0 0 12 15" preserveAspectRatio="none" style="transform:translate(-0.3px,-0.6px)"><path d="M0.5 1.6 L3.6 1.6 L4.2 0.5 Q4.4 0.2 4.8 0.2 L7.2 0.2 Q7.6 0.2 7.8 0.5 L8.4 1.6 L11.5 1.6 Q12 1.6 12 2.1 L12 2.9 Q12 3.3 11.5 3.3 L0.5 3.3 Q0 3.3 0 2.9 L0 2.1 Q0 1.6 0.5 1.6 Z" fill="#fff"/><path d="M0.9 4.3 L11.1 4.3 L10.6 13.6 Q10.5 14.8 9.3 14.8 L2.7 14.8 Q1.5 14.8 1.4 13.6 Z" fill="#fff"/><g stroke="#e84c5c" stroke-width="1.1" stroke-linecap="round" opacity="0.5"><path d="M3.7 6.4 L3.7 12.6"/><path d="M6 6.4 L6 12.6"/><path d="M8.3 6.4 L8.3 12.6"/></g></svg></div>
<div class="abs" style="left:0;top:678px;width:59px;height:65px;background:#fafafa"></div>
<div class="abs" style="left:59px;top:676px;width:121px;height:66px;background:#f9f9f9"></div>
<div class="abs" style="left:180px;top:676px;width:92px;height:66px;background:#f6f6f6"></div>
<div class="abs" style="left:272px;top:676px;width:194px;height:66px;background:#f6f6f6"></div>
<div class="abs" style="left:466px;top:676px;width:534px;height:66px;background:#f5f5f5"></div>
<div class="ico" style="left:17.0px;top:703.9px"><svg width="22.6" height="16.5" viewBox="0 0 24 18" preserveAspectRatio="none"><path d="M3 9.4 L8.8 14.8 L21 3.2" fill="none" stroke="#69a21c" stroke-width="5.1" stroke-linecap="round" stroke-linejoin="miter"/></svg></div>
<div class="nm" style="top:686.0px">VAREN<br>DUSKHOLM</div>
<div class="st" style="top:697.5px">Active</div>
<div class="ac" style="top:692px;height:34px">Account configuration</div>
<div class="btn b-warn" style="left:476.5px;top:692px;width:42px;height:34px"><svg width="17.3" height="15.1" viewBox="0 0 18 16" preserveAspectRatio="none" style="transform:translate(-0.35px,-0.65px)"><path d="M9 0.8 Q9.9 0.8 10.4 1.7 L17.2 13.4 Q17.9 15.2 16.1 15.3 L1.9 15.3 Q0.1 15.2 0.8 13.4 L7.6 1.7 Q8.1 0.8 9 0.8 Z" fill="#fff"/><rect x="8.1" y="5.6" width="1.8" height="4.6" rx="0.6" fill="#ef7d0b"/><circle cx="9" cy="12.4" r="1.1" fill="#ef7d0b"/></svg></div>
<div class="btn b-lq" style="left:529.5px;top:692px;width:41px;height:34px"><svg width="10.3" height="12.6" viewBox="0 0 10 14" preserveAspectRatio="none" style="transform:translate(0.4px,-0.5px)"><path d="M1.1 4.4 C1.3 1.9 3 0.9 5 0.9 C7.3 0.9 8.9 2.1 8.9 4 C8.9 5.5 8.1 6.2 7.1 6.9 C6.3 7.5 6.2 7.9 6.2 8.9 L3.6 8.9 C3.6 7.4 4 6.7 5 6 C5.8 5.4 6.2 5 6.2 4.2 C6.2 3.5 5.7 3.1 5 3.1 C4.2 3.1 3.7 3.6 3.6 4.5 Z" fill="#fff"/><rect x="3.5" y="10" width="2.8" height="2.8" rx="0.5" fill="#fff"/></svg></div>
<div class="btn b-lq" style="left:581.5px;top:692px;width:41px;height:34px"><svg width="15.4" height="11.5" viewBox="0 0 16 13" preserveAspectRatio="none" style="transform:translate(0px,-1px)"><g fill="#fff"><rect x="0" y="0" width="3.8" height="3.6" rx="0.5"/><rect x="4.8" y="0" width="11.2" height="3.6" rx="0.5"/><rect x="0" y="4.7" width="3.8" height="3.6" rx="0.5"/><rect x="4.8" y="4.7" width="11.2" height="3.6" rx="0.5"/><rect x="0" y="9.4" width="3.8" height="3.6" rx="0.5"/><rect x="4.8" y="9.4" width="11.2" height="3.6" rx="0.5"/></g></svg></div>
<div class="btn b-cy" style="left:633.5px;top:692px;width:43px;height:34px"><svg width="17" height="10.3" viewBox="0 0 18 12" preserveAspectRatio="none" style="transform:translate(0px,-0.4px)"><rect x="0" y="0" width="18" height="12" rx="1" fill="#fff"/><path d="M4.2 1.7 L13.8 1.7 Q14 3.4 16.2 3.6 L16.2 8.4 Q14 8.6 13.8 10.3 L4.2 10.3 Q4 8.6 1.8 8.4 L1.8 3.6 Q4 3.4 4.2 1.7 Z" fill="#35a7c6"/><ellipse cx="9" cy="6" rx="3" ry="3.5" fill="#fff"/><rect x="8.5" y="4" width="1" height="4" fill="#6cc6e2"/></svg></div>
<div class="btn b-or" style="left:687.5px;top:692px;width:41px;height:34px"><svg width="16.4" height="13.8" viewBox="0 0 17 14" preserveAspectRatio="none" style="transform:translate(-0.3px,-1.2px)"><g fill="none" stroke="#fde7b8" stroke-width="1.35" stroke-linejoin="round" stroke-linecap="round"><path d="M1.8 4.2 L3.5 1.5 Q3.9 0.7 4.8 0.8 L14.1 2.4 Q14.8 2.6 14.8 3.3 L14.8 4.2"/><path d="M3.6 2.9 L13.2 4.1" stroke-width="0.9"/><rect x="0.7" y="4.2" width="15.6" height="9.1" rx="1.2"/><path d="M0.7 8.4 L4.8 8.4"/></g></svg></div>
<div class="btn b-out" style="left:738.5px;top:692px;width:42px;height:34px"><svg width="10.5" height="10.7" viewBox="0 0 12 13" preserveAspectRatio="none" style="transform:translate(-0.2px,-1.2px)"><path d="M2.9 6.4 L2.9 4.4 A3.1 3.1 0 0 1 9.1 4.4 L9.1 6.4" fill="none" stroke="#77787b" stroke-width="1.9"/><rect x="0.4" y="5.8" width="11.2" height="7" rx="1.2" fill="#77787b"/></svg></div>
<div class="btn b-out" style="left:791.5px;top:692px;width:41px;height:34px"><svg width="14.8" height="10.8" viewBox="0 0 16 13" preserveAspectRatio="none" style="transform:translate(0.2px,-1.2px)"><path d="M8 7 L8 4.6 A3.4 3.4 0 0 1 14.8 4.6 L14.8 6.4" fill="none" stroke="#66676a" stroke-width="1.8" stroke-linecap="round"/><rect x="0.4" y="6.6" width="9.6" height="6" rx="1.1" fill="#66676a"/></svg></div>
<div class="btn b-cy" style="left:842.5px;top:692px;width:41px;height:34px"><svg width="15" height="13.2" viewBox="0 0 16 15" preserveAspectRatio="none" style="transform:translate(0px,-0.5px)"><path d="M3.8 5 L3.8 1.4 Q3.8 0.7 4.5 0.7 L10.2 0.7 L12.2 2.7 L12.2 5" fill="none" stroke="#fff" stroke-width="1.5" stroke-linejoin="round"/><path d="M2.4 4.6 L13.6 4.6 Q16 4.6 16 7 L16 10 Q16 11.2 14.8 11.2 L1.2 11.2 Q0 11.2 0 10 L0 7 Q0 4.6 2.4 4.6 Z" fill="#fff"/><rect x="3.6" y="9.2" width="8.8" height="4.6" rx="0.4" fill="#52bde0" stroke="#fff" stroke-width="1.5"/><circle cx="13.3" cy="7" r="0.8" fill="#52bde0"/></svg></div>
<div class="btn b-cy" style="left:894.5px;top:692px;width:40px;height:34px"><svg width="15.4" height="11.3" viewBox="0 0 17 13" preserveAspectRatio="none" style="transform:translate(-0.2px,-0.3px)"><path d="M1.4 0 L15.6 0 Q17 0 17 1.4 L17 1.9 L9.6 7.4 Q8.5 8.1 7.4 7.4 L0 1.9 L0 1.4 Q0 0 1.4 0 Z" fill="#fff"/><path d="M0 3.7 L6.6 8.6 Q8.5 9.8 10.4 8.6 L17 3.7 L17 11.6 Q17 13 15.6 13 L1.4 13 Q0 13 0 11.6 Z" fill="#fff"/></svg></div>
<div class="btn b-red" style="left:946.5px;top:692px;width:37px;height:34px"><svg width="11.2" height="12.7" viewBox="0 0 12 15" preserveAspectRatio="none" style="transform:translate(-0.3px,-0.6px)"><path d="M0.5 1.6 L3.6 1.6 L4.2 0.5 Q4.4 0.2 4.8 0.2 L7.2 0.2 Q7.6 0.2 7.8 0.5 L8.4 1.6 L11.5 1.6 Q12 1.6 12 2.1 L12 2.9 Q12 3.3 11.5 3.3 L0.5 3.3 Q0 3.3 0 2.9 L0 2.1 Q0 1.6 0.5 1.6 Z" fill="#fff"/><path d="M0.9 4.3 L11.1 4.3 L10.6 13.6 Q10.5 14.8 9.3 14.8 L2.7 14.8 Q1.5 14.8 1.4 13.6 Z" fill="#fff"/><g stroke="#e84c5c" stroke-width="1.1" stroke-linecap="round" opacity="0.5"><path d="M3.7 6.4 L3.7 12.6"/><path d="M6 6.4 L6 12.6"/><path d="M8.3 6.4 L8.3 12.6"/></g></svg></div>
<div class="abs" style="left:0;top:743px;width:59px;height:65px;background:#f7f7f7"></div>
<div class="abs" style="left:59px;top:742px;width:121px;height:67px;background:#fafafa"></div>
<div class="abs" style="left:180px;top:742px;width:92px;height:67px;background:#fafafa"></div>
<div class="abs" style="left:272px;top:742px;width:194px;height:67px;background:#fafafa"></div>
<div class="abs" style="left:466px;top:742px;width:534px;height:67px;background:#fafafa"></div>
<div class="ico" style="left:17.0px;top:769.2px"><svg width="22.6" height="16.5" viewBox="0 0 24 18" preserveAspectRatio="none"><path d="M3 9.4 L8.8 14.8 L21 3.2" fill="none" stroke="#69a21c" stroke-width="5.1" stroke-linecap="round" stroke-linejoin="miter"/></svg></div>
<div class="nm" style="top:751.7px">CEDRIC<br>HALDEN</div>
<div class="st" style="top:764.0px">Active</div>
<div class="ac" style="top:758px;height:35px">Account configuration</div>
<div class="btn b-bl" style="left:476.5px;top:758px;width:41px;height:35px"><svg width="10.3" height="12.6" viewBox="0 0 10 14" preserveAspectRatio="none" style="transform:translate(0.4px,-0.5px)"><path d="M1.1 4.4 C1.3 1.9 3 0.9 5 0.9 C7.3 0.9 8.9 2.1 8.9 4 C8.9 5.5 8.1 6.2 7.1 6.9 C6.3 7.5 6.2 7.9 6.2 8.9 L3.6 8.9 C3.6 7.4 4 6.7 5 6 C5.8 5.4 6.2 5 6.2 4.2 C6.2 3.5 5.7 3.1 5 3.1 C4.2 3.1 3.7 3.6 3.6 4.5 Z" fill="#fff"/><rect x="3.5" y="10" width="2.8" height="2.8" rx="0.5" fill="#fff"/></svg></div>
<div class="btn b-bl" style="left:529.5px;top:758px;width:41px;height:35px"><svg width="15.4" height="11.5" viewBox="0 0 16 13" preserveAspectRatio="none" style="transform:translate(0px,-1px)"><g fill="#fff"><rect x="0" y="0" width="3.8" height="3.6" rx="0.5"/><rect x="4.8" y="0" width="11.2" height="3.6" rx="0.5"/><rect x="0" y="4.7" width="3.8" height="3.6" rx="0.5"/><rect x="4.8" y="4.7" width="11.2" height="3.6" rx="0.5"/><rect x="0" y="9.4" width="3.8" height="3.6" rx="0.5"/><rect x="4.8" y="9.4" width="11.2" height="3.6" rx="0.5"/></g></svg></div>
<div class="btn b-cy" style="left:581.5px;top:758px;width:42px;height:35px"><svg width="17" height="10.3" viewBox="0 0 18 12" preserveAspectRatio="none" style="transform:translate(0px,-0.4px)"><rect x="0" y="0" width="18" height="12" rx="1" fill="#fff"/><path d="M4.2 1.7 L13.8 1.7 Q14 3.4 16.2 3.6 L16.2 8.4 Q14 8.6 13.8 10.3 L4.2 10.3 Q4 8.6 1.8 8.4 L1.8 3.6 Q4 3.4 4.2 1.7 Z" fill="#35a7c6"/><ellipse cx="9" cy="6" rx="3" ry="3.5" fill="#fff"/><rect x="8.5" y="4" width="1" height="4" fill="#6cc6e2"/></svg></div>
<div class="btn b-or" style="left:634.5px;top:758px;width:42px;height:35px"><svg width="16.4" height="13.8" viewBox="0 0 17 14" preserveAspectRatio="none" style="transform:translate(-0.3px,-1.2px)"><g fill="none" stroke="#fde7b8" stroke-width="1.35" stroke-linejoin="round" stroke-linecap="round"><path d="M1.8 4.2 L3.5 1.5 Q3.9 0.7 4.8 0.8 L14.1 2.4 Q14.8 2.6 14.8 3.3 L14.8 4.2"/><path d="M3.6 2.9 L13.2 4.1" stroke-width="0.9"/><rect x="0.7" y="4.2" width="15.6" height="9.1" rx="1.2"/><path d="M0.7 8.4 L4.8 8.4"/></g></svg></div>
<div class="btn b-out" style="left:687.5px;top:758px;width:41px;height:35px"><svg width="10.5" height="10.7" viewBox="0 0 12 13" preserveAspectRatio="none" style="transform:translate(-0.2px,-1.2px)"><path d="M2.9 6.4 L2.9 4.4 A3.1 3.1 0 0 1 9.1 4.4 L9.1 6.4" fill="none" stroke="#77787b" stroke-width="1.9"/><rect x="0.4" y="5.8" width="11.2" height="7" rx="1.2" fill="#77787b"/></svg></div>
<div class="btn b-outd" style="left:738.5px;top:758px;width:41px;height:35px"><svg width="14.8" height="10.8" viewBox="0 0 16 13" preserveAspectRatio="none" style="transform:translate(0.2px,-1.2px)"><path d="M8 7 L8 4.6 A3.4 3.4 0 0 1 14.8 4.6 L14.8 6.4" fill="none" stroke="#1c1f2a" stroke-width="1.8" stroke-linecap="round"/><rect x="0.4" y="6.6" width="9.6" height="6" rx="1.1" fill="#1c1f2a"/></svg></div>
<div class="btn b-cy" style="left:790.5px;top:758px;width:40px;height:35px"><svg width="15" height="13.2" viewBox="0 0 16 15" preserveAspectRatio="none" style="transform:translate(0px,-0.5px)"><path d="M3.8 5 L3.8 1.4 Q3.8 0.7 4.5 0.7 L10.2 0.7 L12.2 2.7 L12.2 5" fill="none" stroke="#fff" stroke-width="1.5" stroke-linejoin="round"/><path d="M2.4 4.6 L13.6 4.6 Q16 4.6 16 7 L16 10 Q16 11.2 14.8 11.2 L1.2 11.2 Q0 11.2 0 10 L0 7 Q0 4.6 2.4 4.6 Z" fill="#fff"/><rect x="3.6" y="9.2" width="8.8" height="4.6" rx="0.4" fill="#52bde0" stroke="#fff" stroke-width="1.5"/><circle cx="13.3" cy="7" r="0.8" fill="#52bde0"/></svg></div>
<div class="btn b-cy" style="left:841.5px;top:758px;width:42px;height:35px"><svg width="15.4" height="11.3" viewBox="0 0 17 13" preserveAspectRatio="none" style="transform:translate(-0.2px,-0.3px)"><path d="M1.4 0 L15.6 0 Q17 0 17 1.4 L17 1.9 L9.6 7.4 Q8.5 8.1 7.4 7.4 L0 1.9 L0 1.4 Q0 0 1.4 0 Z" fill="#fff"/><path d="M0 3.7 L6.6 8.6 Q8.5 9.8 10.4 8.6 L17 3.7 L17 11.6 Q17 13 15.6 13 L1.4 13 Q0 13 0 11.6 Z" fill="#fff"/></svg></div>
<div class="btn b-red" style="left:894.5px;top:758px;width:37px;height:35px"><svg width="11.2" height="12.7" viewBox="0 0 12 15" preserveAspectRatio="none" style="transform:translate(-0.3px,-0.6px)"><path d="M0.5 1.6 L3.6 1.6 L4.2 0.5 Q4.4 0.2 4.8 0.2 L7.2 0.2 Q7.6 0.2 7.8 0.5 L8.4 1.6 L11.5 1.6 Q12 1.6 12 2.1 L12 2.9 Q12 3.3 11.5 3.3 L0.5 3.3 Q0 3.3 0 2.9 L0 2.1 Q0 1.6 0.5 1.6 Z" fill="#fff"/><path d="M0.9 4.3 L11.1 4.3 L10.6 13.6 Q10.5 14.8 9.3 14.8 L2.7 14.8 Q1.5 14.8 1.4 13.6 Z" fill="#fff"/><g stroke="#e84c5c" stroke-width="1.1" stroke-linecap="round" opacity="0.5"><path d="M3.7 6.4 L3.7 12.6"/><path d="M6 6.4 L6 12.6"/><path d="M8.3 6.4 L8.3 12.6"/></g></svg></div>
<div class="sep" style="left:59px;width:941px;top:279px"></div>
<div class="sep" style="left:59px;width:941px;top:346px"></div>
<div class="sep" style="left:59px;width:941px;top:412px"></div>
<div class="sep" style="left:59px;width:941px;top:477px"></div>
<div class="sep" style="left:59px;width:941px;top:543px"></div>
<div class="sep" style="left:59px;width:941px;top:610px"></div>
<div class="sep" style="left:59px;width:941px;top:675px"></div>
<div class="sep" style="left:59px;width:941px;top:741px"></div>
<div class="sep" style="left:59px;width:941px;top:808px"></div>
<div class="sep" style="left:0;width:59px;top:281px"></div>
<div class="sep" style="left:0;width:59px;top:348px"></div>
<div class="sep" style="left:0;width:59px;top:414px"></div>
<div class="sep" style="left:0;width:59px;top:479px"></div>
<div class="sep" style="left:0;width:59px;top:545px"></div>
<div class="sep" style="left:0;width:59px;top:611px"></div>
<div class="sep" style="left:0;width:59px;top:677px"></div>
<div class="sep" style="left:0;width:59px;top:742px"></div>
<div class="sep" style="left:0;width:59px;top:807px"></div>
<div class="abs" style="left:179px;top:191px;width:2px;height:90px;background:#f4f4f4"></div>
<div class="abs" style="left:271px;top:191px;width:2px;height:90px;background:#f4f4f4"></div>
<div class="abs" style="left:466px;top:191px;width:2px;height:90px;background:#f4f4f4"></div>
<div class="abs" style="left:59px;top:281px;width:2px;height:528px;background:#eeeeee;opacity:0.8"></div>
<div class="abs" style="left:180px;top:281px;width:2px;height:528px;background:#eeeeee;opacity:0.8"></div>
<div class="abs" style="left:271px;top:281px;width:2px;height:528px;background:#eeeeee;opacity:0.8"></div>
<div class="abs" style="left:466px;top:281px;width:2px;height:528px;background:#eeeeee;opacity:0.8"></div>
<div class="th" style="left:69px;top:213.5px">Customer<br>name</div>
<div class="th" style="left:190px;top:225.3px">Status</div>
<div class="th" style="left:282px;top:213.5px">Account<br>configuration</div>
<div class="th" style="left:477px;top:225.3px">Action</div>
</div></body></html>
